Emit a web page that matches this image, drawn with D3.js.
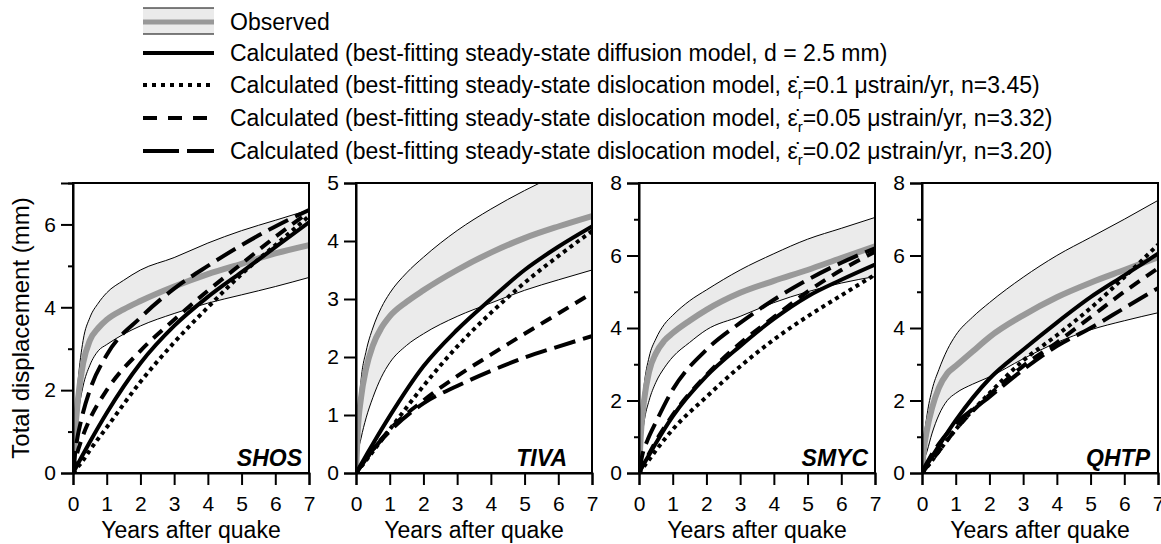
<!DOCTYPE html>
<html><head><meta charset="utf-8">
<script src="https://cdn.jsdelivr.net/npm/d3@7"></script>
<style>
body{margin:0;background:#fff;}
svg{display:block;font-family:"Liberation Sans",Arial,sans-serif;}
</style></head>
<body><svg id="chart" width="1161" height="544"></svg>
<script>
// ---------- DATA ----------
const stations = ["SHOS", "TIVA", "SMYC", "QHTP"];
const yMaxes = [7, 5, 8, 8];
const yTickLabelStep = [2, 1, 2, 2];
const xTicks = [0, 1, 2, 3, 4, 5, 6, 7];

// observed curve grid (years after quake)
const obsYears = [0, 0.05, 0.15, 0.3, 0.5, 0.75, 1, 1.5, 2, 3, 4, 5, 6, 7];
// calculated curve grid
const calcYears = [0, 0.1, 0.25, 0.5, 1, 2, 3, 4, 5, 6, 7];

// SHOS
const shosObsMid   = [0, 0.8, 1.8, 2.65, 3.2, 3.5, 3.7, 3.95, 4.15, 4.5, 4.8, 5.05, 5.3, 5.5];
const shosObsUpper = [0, 1.0, 2.2, 3.2, 3.75, 4.1, 4.35, 4.65, 4.9, 5.2, 5.55, 5.85, 6.1, 6.35];
const shosObsLower = [0, 0.6, 1.4, 2.1, 2.6, 2.95, 3.1, 3.35, 3.55, 3.85, 4.1, 4.3, 4.5, 4.72];
const shosDiffusion = [0, 0.15, 0.38, 0.75, 1.45, 2.65, 3.55, 4.25, 4.85, 5.45, 6.05];
const shosDisl010   = [0, 0.1, 0.25, 0.55, 1.1, 2.2, 3.15, 4.0, 4.8, 5.5, 6.2];
const shosDisl005   = [0, 0.4, 0.8, 1.3, 2.0, 2.95, 3.7, 4.4, 5.05, 5.7, 6.3];
const shosDisl002   = [0, 0.7, 1.3, 2.0, 2.85, 3.75, 4.45, 5.0, 5.5, 5.95, 6.35];

// TIVA
const tivaObsMid   = [0, 0.7, 1.3, 1.8, 2.2, 2.5, 2.7, 2.95, 3.15, 3.5, 3.8, 4.05, 4.25, 4.43];
const tivaObsUpper = [0, 0.8, 1.6, 2.1, 2.5, 2.85, 3.1, 3.45, 3.72, 4.18, 4.55, 4.87, 5.15, 5.4];
const tivaObsLower = [0, 0.3, 0.6, 0.95, 1.3, 1.65, 1.9, 2.2, 2.4, 2.7, 2.93, 3.15, 3.33, 3.5];
const tivaDiffusion = [0, 0.1, 0.25, 0.5, 0.98, 1.84, 2.47, 3.0, 3.5, 3.9, 4.25];
const tivaDisl010   = [0, 0.07, 0.18, 0.37, 0.75, 1.5, 2.18, 2.76, 3.28, 3.74, 4.17];
const tivaDisl005   = [0, 0.08, 0.2, 0.4, 0.75, 1.25, 1.67, 2.04, 2.4, 2.75, 3.1];
const tivaDisl002   = [0, 0.08, 0.2, 0.4, 0.72, 1.2, 1.5, 1.76, 1.99, 2.18, 2.36];

// SMYC
const smycObsMid   = [0, 1.0, 2.0, 2.8, 3.3, 3.65, 3.86, 4.2, 4.5, 4.97, 5.3, 5.6, 5.93, 6.25];
const smycObsUpper = [0, 1.3, 2.4, 3.2, 3.7, 4.1, 4.35, 4.75, 5.05, 5.6, 6.05, 6.45, 6.75, 7.05];
const smycObsLower = [0, 0.6, 1.4, 2.0, 2.5, 2.9, 3.2, 3.6, 3.95, 4.32, 4.7, 5.0, 5.24, 5.42];
const smycDiffusion = [0, 0.18, 0.42, 0.82, 1.56, 2.67, 3.5, 4.25, 4.87, 5.33, 5.75];
const smycDisl010   = [0, 0.13, 0.3, 0.62, 1.2, 2.1, 2.94, 3.68, 4.32, 4.9, 5.47];
const smycDisl005   = [0, 0.2, 0.45, 0.88, 1.6, 2.7, 3.58, 4.3, 5.0, 5.6, 6.1];
const smycDisl002   = [0, 0.5, 0.9, 1.4, 2.3, 3.4, 4.14, 4.78, 5.33, 5.8, 6.2];

// QHTP
const qhtpObsMid   = [0, 0.6, 1.2, 1.8, 2.35, 2.75, 2.95, 3.35, 3.75, 4.35, 4.85, 5.25, 5.6, 5.95];
const qhtpObsUpper = [0, 0.8, 1.6, 2.3, 2.85, 3.4, 3.8, 4.3, 4.7, 5.4, 6.0, 6.5, 7.0, 7.52];
const qhtpObsLower = [0, 0.3, 0.6, 1.1, 1.6, 2.0, 2.2, 2.45, 2.65, 3.15, 3.6, 3.95, 4.2, 4.42];
const qhtpDiffusion = [0, 0.15, 0.38, 0.75, 1.45, 2.6, 3.4, 4.15, 4.85, 5.45, 6.05];
const qhtpDisl010   = [0, 0.1, 0.28, 0.6, 1.2, 2.2, 3.1, 3.8, 4.55, 5.4, 6.3];
const qhtpDisl005   = [0, 0.12, 0.3, 0.6, 1.2, 2.15, 2.95, 3.6, 4.3, 5.0, 5.65];
const qhtpDisl002   = [0, 0.2, 0.45, 0.8, 1.35, 2.1, 2.85, 3.5, 4.0, 4.55, 5.1];

const obsMid   = [shosObsMid, tivaObsMid, smycObsMid, qhtpObsMid];
const obsUpper = [shosObsUpper, tivaObsUpper, smycObsUpper, qhtpObsUpper];
const obsLower = [shosObsLower, tivaObsLower, smycObsLower, qhtpObsLower];
const calcSeries = [
  [shosDiffusion, shosDisl010, shosDisl005, shosDisl002],
  [tivaDiffusion, tivaDisl010, tivaDisl005, tivaDisl002],
  [smycDiffusion, smycDisl010, smycDisl005, smycDisl002],
  [qhtpDiffusion, qhtpDisl010, qhtpDisl005, qhtpDisl002]
];

// ---------- LAYOUT / STYLE ----------
const svg = d3.select("#chart");
const panelLeft0 = 73, panelStep = 283, panelW = 236;
const plotTop = 183, plotBottom = 473;
const calcDash = [null, "4,4", "12,8", "22,8"];
const legendDash = [null, "4,5", "14,11", "36,8"];
const labelPad = [7, 25, 7, 8];
const FONT = "Liberation Sans, Arial, sans-serif";

const line = d3.line().curve(d3.curveMonotoneX);

stations.forEach((name, i) => {
  const x0 = panelLeft0 + i * panelStep;
  const x = d3.scaleLinear().domain([0, 7]).range([x0, x0 + panelW]);
  const y = d3.scaleLinear().domain([0, yMaxes[i]]).range([plotBottom, plotTop]);
  const g = svg.append("g");
  const clipId = "clip" + i;
  svg.append("clipPath").attr("id", clipId).append("rect")
    .attr("x", x0).attr("y", plotTop).attr("width", panelW).attr("height", plotBottom - plotTop);
  const pg = g.append("g").attr("clip-path", `url(#${clipId})`);

  const band = obsYears.map((t, k) => [t, obsLower[i][k], obsUpper[i][k]]);
  pg.append("path").datum(band)
    .attr("d", d3.area().curve(d3.curveMonotoneX).x(d => x(d[0])).y0(d => y(d[1])).y1(d => y(d[2])))
    .attr("fill", "#ebebeb");
  [obsUpper[i], obsLower[i]].forEach(arr => {
    pg.append("path").attr("d", line(obsYears.map((t, k) => [x(t), y(arr[k])])))
      .attr("fill", "none").attr("stroke", "#000").attr("stroke-width", 1);
  });
  pg.append("path").attr("d", line(obsYears.map((t, k) => [x(t), y(obsMid[i][k])])))
    .attr("fill", "none").attr("stroke", "#999").attr("stroke-width", 6);

  calcSeries[i].forEach((arr, s) => {
    pg.append("path").attr("d", line(calcYears.map((t, k) => [x(t), y(arr[k])])))
      .attr("fill", "none").attr("stroke", "#000").attr("stroke-width", 4)
      .attr("stroke-dasharray", calcDash[s]);
  });

  // frame
  g.append("rect").attr("x", x0).attr("y", plotTop).attr("width", panelW).attr("height", plotBottom - plotTop)
    .attr("fill", "none").attr("stroke", "#000").attr("stroke-width", 2);

  // axes
  const xAxis = d3.axisBottom(x).tickValues(xTicks).tickSize(12).tickPadding(11).tickFormat(d3.format("d"));
  const xa = g.append("g").attr("transform", `translate(0,${plotBottom})`).call(xAxis);
  const yTicks = d3.range(0, yMaxes[i] + 1);
  const yAxis = d3.axisLeft(y).tickValues(yTicks).tickSize(12).tickPadding(5)
    .tickFormat(d => d % yTickLabelStep[i] === 0 ? d : "");
  const ya = g.append("g").attr("transform", `translate(${x0},0)`).call(yAxis);
  ya.selectAll(".tick").filter(d => d % yTickLabelStep[i] !== 0).select("line").attr("x2", -5);
  [xa, ya].forEach(a => {
    a.select(".domain").attr("stroke-width", 2);
    a.selectAll(".tick line").attr("stroke-width", 2);
    a.selectAll("text").attr("font-size", 21).attr("font-family", FONT).attr("fill", "#000");
  });

  g.append("text").attr("x", x0 + panelW / 2).attr("y", 538).attr("text-anchor", "middle")
    .attr("font-size", 23).text("Years after quake");
  g.append("text").attr("x", x0 + panelW - labelPad[i]).attr("y", 466).attr("text-anchor", "end")
    .attr("font-size", 23).attr("font-weight", "bold").attr("font-style", "italic").text(name);
});

svg.append("text").attr("transform", `translate(29,${(plotTop + plotBottom) / 2}) rotate(-90)`)
  .attr("text-anchor", "middle").attr("font-size", 24).text("Total displacement (mm)");

// ---------- LEGEND ----------
const legendBase = [30, 61, 93, 126, 159];
const lx1 = 143, lx2 = 214, tx = 230, lfs = 23;
const lg = svg.append("g");
// observed sample
const oc = legendBase[0] - 9;
lg.append("rect").attr("x", lx1).attr("y", oc - 13).attr("width", lx2 - lx1).attr("height", 26).attr("fill", "#ebebeb");
lg.append("line").attr("x1", lx1).attr("x2", lx2).attr("y1", oc - 13).attr("y2", oc - 13).attr("stroke", "#000").attr("stroke-width", 1);
lg.append("line").attr("x1", lx1).attr("x2", lx2).attr("y1", oc + 13).attr("y2", oc + 13).attr("stroke", "#000").attr("stroke-width", 1);
lg.append("line").attr("x1", lx1).attr("x2", lx2).attr("y1", oc + 1).attr("y2", oc + 1).attr("stroke", "#999").attr("stroke-width", 5);
lg.append("text").attr("x", tx).attr("y", legendBase[0]).attr("font-size", lfs).text("Observed");

const legendPre = "Calculated (best-fitting steady-state dislocation model, ";
const legendItems = [
  {plain: "Calculated (best-fitting steady-state diffusion model, d = 2.5 mm)"},
  {rate: "0.1", n: "3.45"},
  {rate: "0.05", n: "3.32"},
  {rate: "0.02", n: "3.20"}
];
legendItems.forEach((it, s) => {
  const yb = legendBase[s + 1];
  const yy = yb - 8;
  lg.append("line").attr("x1", lx1).attr("x2", lx2).attr("y1", yy).attr("y2", yy)
    .attr("stroke", "#000").attr("stroke-width", 4).attr("stroke-dasharray", legendDash[s]);
  const t = lg.append("text").attr("x", tx).attr("y", yb).attr("font-size", lfs);
  if (it.plain) { t.text(it.plain); return; }
  t.append("tspan").text(legendPre + "\u03B5\u0307");
  t.append("tspan").attr("dy", 6).attr("font-size", 15).text("r");
  t.append("tspan").attr("dy", -6).text("=" + it.rate + " \u03BCstrain/yr, n=" + it.n + ")");
});
</script></body></html>
